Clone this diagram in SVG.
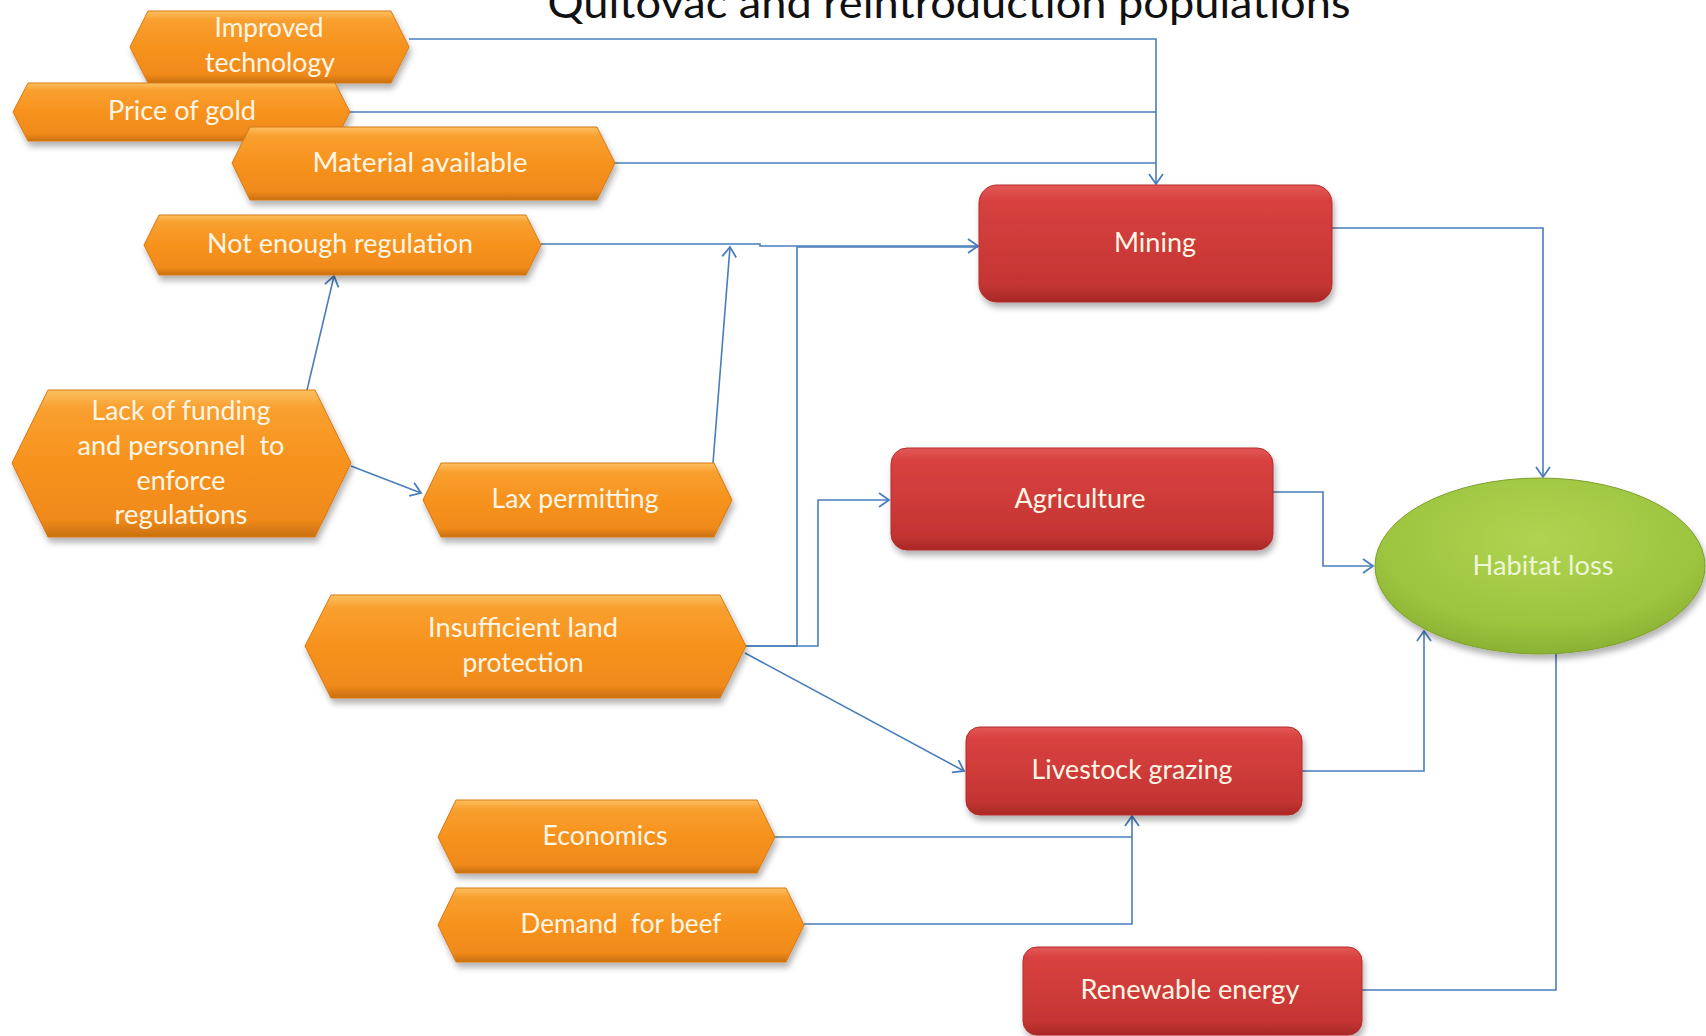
<svg xmlns="http://www.w3.org/2000/svg" width="1706" height="1036" viewBox="0 0 1706 1036">
<defs>
<style>
.lbl{font-family:Lato,"Open Sans","Liberation Sans",sans-serif;font-size:26px;fill:#fff6e6;text-anchor:middle}
.title{font-family:Lato,"Open Sans","Liberation Sans",sans-serif;font-size:42px;fill:#111;text-anchor:middle}
.hex{fill:url(#og);stroke:#d9790f;stroke-width:1;filter:url(#sh)}
.box{fill:url(#rg);stroke:#b52a28;stroke-width:1;filter:url(#sh)}
.con{fill:none;stroke:#4a7ebb;stroke-width:1.6}
</style>
<linearGradient id="og" x1="0" y1="0" x2="0" y2="1">
<stop offset="0" stop-color="#fcc060"/>
<stop offset="0.12" stop-color="#f9a030"/>
<stop offset="0.5" stop-color="#f7921d"/>
<stop offset="0.88" stop-color="#f08a1a"/>
<stop offset="1" stop-color="#c9700f"/>
</linearGradient>
<linearGradient id="rg" x1="0" y1="0" x2="0" y2="1">
<stop offset="0" stop-color="#e25a58"/>
<stop offset="0.12" stop-color="#d94140"/>
<stop offset="0.85" stop-color="#c43533"/>
<stop offset="1" stop-color="#a82826"/>
</linearGradient>
<radialGradient id="gg" cx="0.5" cy="0.35" r="0.7">
<stop offset="0" stop-color="#b0d452"/>
<stop offset="0.7" stop-color="#9cc43e"/>
<stop offset="1" stop-color="#86ab2f"/>
</radialGradient>
<filter id="sh" x="-10%" y="-10%" width="120%" height="130%">
<feDropShadow dx="2" dy="5" stdDeviation="3" flood-color="#000" flood-opacity="0.3"/>
</filter>
<marker id="ar" markerUnits="userSpaceOnUse" markerWidth="16" markerHeight="18" refX="11" refY="8" orient="auto" viewBox="0 0 16 16">
<path d="M1,1 L11,8 L1,15" fill="none" stroke="#4a7ebb" stroke-width="1.8"/>
</marker>
</defs>
<rect width="1706" height="1036" fill="#fff"/>
<text class="title" x="949" y="18" textLength="803" lengthAdjust="spacingAndGlyphs">Quitovac and reintroduction populations</text>

<g id="connectors">
<path class="con" d="M409,39 H1156 V184" marker-end="url(#ar)"/>
<path class="con" d="M350,112 H1156"/>
<path class="con" d="M615,163 H1156"/>
<path class="con" d="M541,244 H760 V246 H978" marker-end="url(#ar)"/>
<path class="con" d="M745,646 H797 V247 H978"/>
<path class="con" d="M745,646 H818 V500 H889" marker-end="url(#ar)"/>
<path class="con" d="M745,653 L964,771" marker-end="url(#ar)"/>
<path class="con" d="M307,390 L334,276" marker-end="url(#ar)"/>
<path class="con" d="M351,466 L421,493" marker-end="url(#ar)"/>
<path class="con" d="M713,463 L730,247" marker-end="url(#ar)"/>
<path class="con" d="M1332,228 H1543 V477" marker-end="url(#ar)"/>
<path class="con" d="M1273,492 H1323 V566 H1373" marker-end="url(#ar)"/>
<path class="con" d="M1302,771 H1424 V631" marker-end="url(#ar)"/>
<path class="con" d="M1362,990 H1556 V643" marker-end="url(#ar)"/>
<path class="con" d="M775,837 H1132"/>
<path class="con" d="M804,924 H1132 V816" marker-end="url(#ar)"/>
</g>

<g id="improved-technology">
<polygon class="hex" points="130,47 148,11 391,11 409,47 391,83 148,83"/>
<text class="lbl" x="269" y="37" textLength="109" lengthAdjust="spacingAndGlyphs">Improved</text>
<text class="lbl" x="270" y="72" textLength="130" lengthAdjust="spacingAndGlyphs">technology</text>
</g>
<g id="price-of-gold">
<polygon class="hex" points="13,112 28,83 335,83 350,112 335,141 28,141"/>
<text class="lbl" x="182" y="120" textLength="148" lengthAdjust="spacingAndGlyphs">Price of gold</text>
</g>
<g id="material-available">
<polygon class="hex" points="232,163 250,127 597,127 615,163 597,200 250,200"/>
<text class="lbl" x="420" y="172" textLength="215" lengthAdjust="spacingAndGlyphs">Material available</text>
</g>
<g id="not-enough-regulation">
<polygon class="hex" points="144,245 159,215 526,215 541,245 526,275 159,275"/>
<text class="lbl" x="340" y="253" textLength="266" lengthAdjust="spacingAndGlyphs">Not enough regulation</text>
</g>
<g id="lack-of-funding">
<polygon class="hex" points="12,463 48,390 315,390 351,463 315,537 48,537"/>
<text class="lbl" x="181" y="420" textLength="179" lengthAdjust="spacingAndGlyphs">Lack of funding</text>
<text class="lbl" x="181" y="455" xml:space="preserve" textLength="207" lengthAdjust="spacingAndGlyphs">and personnel  to</text>
<text class="lbl" x="181" y="490" textLength="89" lengthAdjust="spacingAndGlyphs">enforce</text>
<text class="lbl" x="181" y="524" textLength="133" lengthAdjust="spacingAndGlyphs">regulations</text>
</g>
<g id="lax-permitting">
<polygon class="hex" points="423,500 441,463 714,463 732,500 714,537 441,537"/>
<text class="lbl" x="575" y="508" textLength="167" lengthAdjust="spacingAndGlyphs">Lax permitting</text>
</g>
<g id="insufficient-land-protection">
<polygon class="hex" points="305,646 331,595 720,595 746,646 720,698 331,698"/>
<text class="lbl" x="523" y="637" textLength="190" lengthAdjust="spacingAndGlyphs">Insufficient land</text>
<text class="lbl" x="523" y="672" textLength="121" lengthAdjust="spacingAndGlyphs">protection</text>
</g>
<g id="economics">
<polygon class="hex" points="438,837 456,800 757,800 775,837 757,873 456,873"/>
<text class="lbl" x="605" y="845" textLength="125" lengthAdjust="spacingAndGlyphs">Economics</text>
</g>
<g id="demand-for-beef">
<polygon class="hex" points="438,925 456,888 786,888 804,925 786,962 456,962"/>
<text class="lbl" x="621" y="933" xml:space="preserve" textLength="201" lengthAdjust="spacingAndGlyphs">Demand  for beef</text>
</g>

<g id="mining">
<rect class="box" x="979" y="185" width="353" height="117" rx="18"/>
<text class="lbl" x="1155" y="252" textLength="82" lengthAdjust="spacingAndGlyphs">Mining</text>
</g>
<g id="agriculture">
<rect class="box" x="891" y="448" width="382" height="102" rx="16"/>
<text class="lbl" x="1080" y="508" textLength="131" lengthAdjust="spacingAndGlyphs">Agriculture</text>
</g>
<g id="livestock-grazing">
<rect class="box" x="966" y="727" width="336" height="88" rx="14"/>
<text class="lbl" x="1132" y="779" textLength="201" lengthAdjust="spacingAndGlyphs">Livestock grazing</text>
</g>
<g id="renewable-energy">
<rect class="box" x="1023" y="947" width="339" height="88" rx="14"/>
<text class="lbl" x="1190" y="999" textLength="219" lengthAdjust="spacingAndGlyphs">Renewable energy</text>
</g>
<g id="habitat-loss">
<ellipse cx="1540" cy="566" rx="165" ry="88" fill="url(#gg)" stroke="#7e9f2c" stroke-width="1" filter="url(#sh)"/>
<text class="lbl" x="1543" y="575" style="fill:#eef6d8" textLength="141" lengthAdjust="spacingAndGlyphs">Habitat loss</text>
</g>
</svg>
